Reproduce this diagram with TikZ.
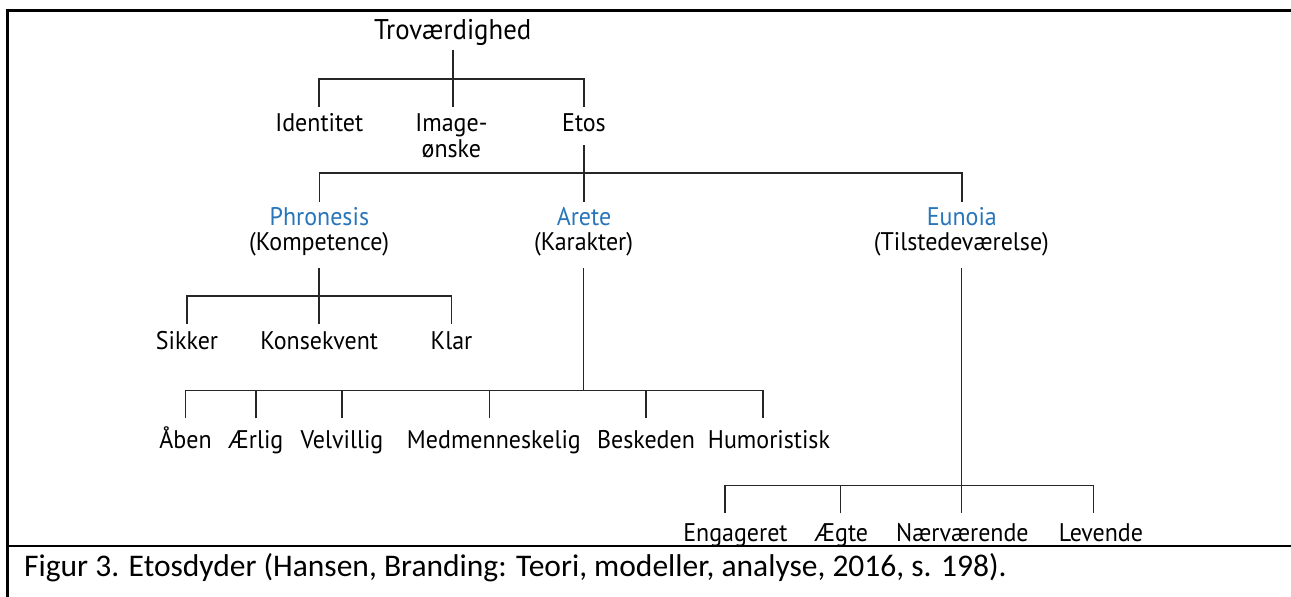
\documentclass[tikz,border=0pt]{standalone}
\usepackage{fontspec}
\setmainfont{Carlito}
\newfontfamily\labelfont[FakeStretch=0.94]{PT Sans}
\definecolor{virtue}{RGB}{40,117,186}
\begin{document}
\begin{tikzpicture}[x=1pt,y=-1pt,
  lbl/.style={inner sep=0pt, outer sep=0pt, anchor=base, font={\labelfont\fontsize{25.5}{29}\selectfont}},
  toplbl/.style={lbl, font={\labelfont\fontsize{28.5}{32}\selectfont}, text depth=10.5pt},
  rowtwo/.style={lbl, text height=25pt, text depth=13.3pt},
  virt/.style={lbl, text=virtue, text height=23.3pt},
  sublbl/.style={lbl, text depth=18.3pt},
  rowfour/.style={lbl, text height=24.7pt},
  rowfive/.style={lbl, text height=30pt},
  rowsix/.style={lbl, text height=28.4pt},
  conn/.style={draw=black!85, line width=1.7pt},
  borderline/.style={draw=black, line width=3pt, line cap=butt}
]
\useasboundingbox (0,0) rectangle (1291,597);

% outer frame (top and left) and caption separator
\draw[borderline] (7.5,10) -- (1291,10);
\draw[borderline] (7.5,8.5) -- (7.5,597);
\draw[borderline, line width=2.6pt] (7.5,546) -- (1291,546);

% level 0 and 1
\node[toplbl] (tro) at (452.7,39.5) {Troværdighed};
\node[rowtwo] (ide) at (319.3,131.7) {Identitet};
\node[rowtwo] (img) at (451.4,131.7) {Image-};
\node[lbl] (oen) at (451.4,157.3) {ønske};
\node[rowtwo] (etos) at (584,131.7) {Etos};

% the three virtues
\node[virt] (phr) at (319.4,225) {Phronesis};
\node[sublbl] (komp) at (319.2,250) {(Kompetence)};
\node[virt] (are) at (584,225) {Arete};
\node[sublbl] (kar) at (583.6,250) {(Karakter)};
\node[virt] (eun) at (961.8,225) {Eunoia};
\node[sublbl] (til) at (961.4,250) {(Tilstedeværelse)};

% Phronesis children
\node[rowfour] (sik) at (187,349) {Sikker};
\node[rowfour] (kon) at (319.2,349) {Konsekvent};
\node[rowfour] (kla) at (451.5,349) {Klar};

% Arete children
\node[rowfive] (aab) at (185.5,448.3) {Åben};
\node[rowfive] (aer) at (256,448.3) {Ærlig};
\node[rowfive] (vel) at (342,448.3) {Velvillig};
\node[rowfive] (med) at (493.9,448.3) {Medmenneskelig};
\node[rowfive] (bes) at (646,448.3) {Beskeden};
\node[rowfive] (hum) at (769,448.3) {Humoristisk};

% Eunoia children
\node[rowsix] (eng) at (735.5,541.7) {Engageret};
\node[rowsix] (aeg) at (841.5,541.7) {Ægte};
\node[rowsix] (nae) at (962.4,541.7) {Nærværende};
\node[rowsix] (lev) at (1100.9,541.7) {Levende};

% bar junctions
\coordinate (j1) at (452.7,79);
\coordinate (j2) at (584,173.3);
\coordinate (j3) at (319.2,296);
\coordinate (j4) at (583.6,390.5);
\coordinate (j5) at (961.4,485.5);

% connectors
\draw[conn] (tro.south) -- (tro.south |- img.north);
\draw[conn] (ide.north) |- (j1) -| (etos.north);
\draw[conn] (etos.south) -- (etos.south |- are.north);
\draw[conn] (phr.north) |- (j2) -| (eun.north);

\draw[conn] (komp.south) -- (komp.south |- kon.north);
\draw[conn] (sik.north) |- (j3) -| (kla.north);

\draw[conn] (kar.south) -- (kar.south |- j4);
\draw[conn] (aab.north) |- (j4) -| ([xshift=-6pt]hum.north);
\draw[conn] (aer.north) -- (aer.north |- j4);
\draw[conn] (vel.north) -- (vel.north |- j4);
\draw[conn] ([xshift=-4.4pt]med.north) -- ([xshift=-4.4pt]med.north |- j4);
\draw[conn] (bes.north) -- (bes.north |- j4);

\draw[conn] (til.south) -- (til.south |- j5);
\draw[conn] ([xshift=-10.8pt]eng.north) |- (j5) -| ([xshift=-7.3pt]lev.north);
\draw[conn] ([xshift=-0.9pt]aeg.north) -- ([xshift=-0.9pt]aeg.north |- j5);
\draw[conn] ([xshift=-1pt]nae.north) -- ([xshift=-1pt]nae.north |- j5);

% caption
\node[inner sep=0pt, anchor=base west, font={\fontsize{31.5}{36}\selectfont}] (cap) at (24,576.7)
  {Figur 3. Etosdyder (Hansen, Branding: Teori, modeller, analyse, 2016, s. 198).};
\end{tikzpicture}
\end{document}
